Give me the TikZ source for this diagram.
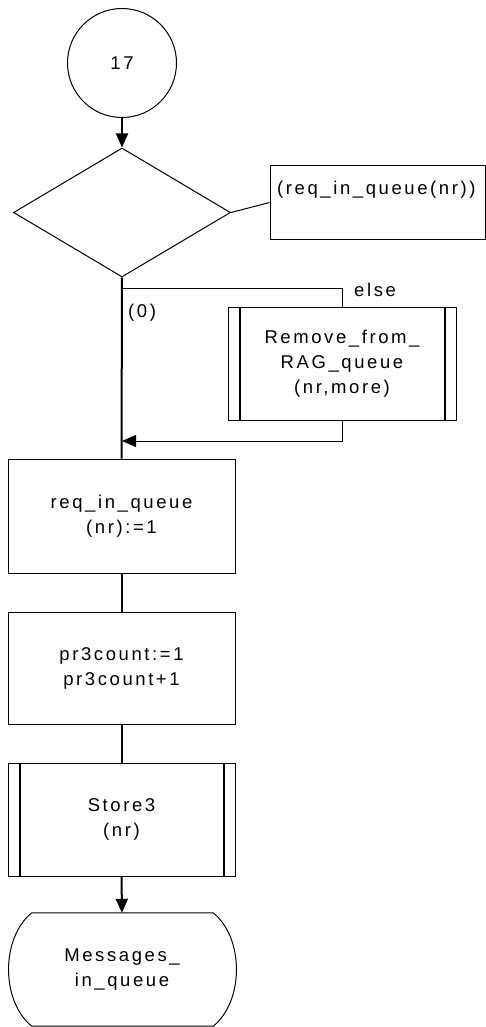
\documentclass[tikz,border=0pt]{standalone}
\usepackage{fontspec}
\setmainfont{Liberation Sans}[LetterSpace=14]
\usetikzlibrary{shapes.geometric,arrows.meta,calc}
\tikzset{
  thinl/.style={line width=1pt},
  flow/.style={line width=2pt},
  arr/.style={-{Triangle[length=14pt,width=12pt]}},
  box/.style={draw, thinl, minimum width=227pt, inner sep=0pt, align=center},
  sub/.style={box, path picture={
      \draw[line width=2pt] ([xshift=11.5pt]path picture bounding box.north west) -- ([xshift=11.5pt]path picture bounding box.south west);
      \draw[line width=2pt] ([xshift=-11.5pt]path picture bounding box.north east) -- ([xshift=-11.5pt]path picture bounding box.south east);
  }},
  txt/.style={anchor=west, inner sep=0pt},
}
\begin{document}
\begin{tikzpicture}[x=1pt,y=-1pt,font=\fontsize{18.5}{25}\selectfont]
\useasboundingbox (0,0) rectangle (486,1027);
\node[draw, circle, thinl, minimum size=109pt, inner sep=0pt] (c17) at (122,63) {17};
\node[draw, diamond, thinl, minimum width=217pt, minimum height=129pt, inner sep=0pt] (dia) at (122,212.5) {};
\node[draw, thinl, minimum width=215pt, minimum height=73pt, inner sep=0pt] (cond) at (377.5,202.5) {};
\node[txt] (condtxt) at (277,190) {(req\_in\_queue(nr))};
\node[sub, minimum width=228pt, minimum height=113pt] (rem) at (342,363.5) {Remove\_from\_\\RAG\_queue\\(nr,more)};
\node[box, minimum height=114pt] (b1) at (121.5,516) {req\_in\_queue\\(nr):=1};
\node[box, minimum height=112pt] (b2) at (121.5,668) {pr3count:=1\\pr3count+1};
\node[sub, minimum height=113pt] (st) at (121.5,819.5) {Store3\\(nr)};
\node[minimum width=228pt, minimum height=113pt, inner sep=0pt, align=center] (msg) at (122,969.5) {Messages\_\\in\_queue};
\draw[thinl] ($(msg.north west)+(24,0)$) -- ($(msg.north east)+(-23,0)$)
  .. controls +(31,25) and +(31,-25) .. ($(msg.south east)+(-23,0)$)
  -- ($(msg.south west)+(24,0)$)
  .. controls +(-31,-25) and +(-31,25) .. cycle;
\node[txt] (elsel) at (354,290) {else};
\node[txt] (zero) at (128,313) {(0)};
\coordinate (br) at (122,288);
\coordinate (mg) at (122,441);
\draw[flow, arr] (c17.south) -- (dia.north);
\draw[thinl] (dia.east) -- (cond.west);
\draw[flow] (dia.south) -- (b1.north);
\draw[thinl] (br) -| (rem.north);
\draw[thinl, arr] (rem.south) |- (mg);
\draw[flow] (b1.south) -- (b2.north);
\draw[flow] (b2.south) -- (st.north);
\draw[flow, arr] (st.south) -- (msg.north);
\end{tikzpicture}
\end{document}
